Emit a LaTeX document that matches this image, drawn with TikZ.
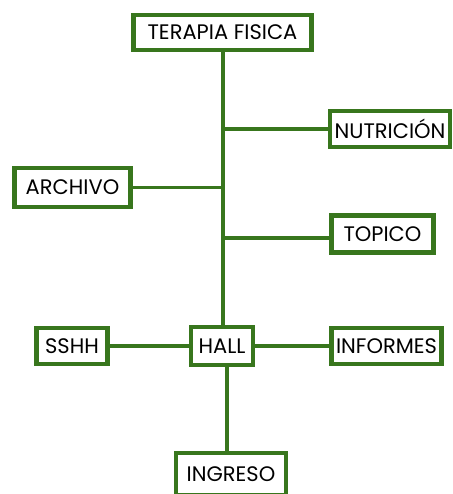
\documentclass[tikz,border=0pt]{standalone}
\usepackage{fontspec}
\setmainfont{Poppins}
\usepackage{xcolor}
\usetikzlibrary{calc}
\definecolor{verde}{RGB}{56,118,29}
\tikzset{
    %Define style for boxes
    area/.style={
        rectangle,
        draw=verde, line width=4.5pt,
        fill=white,
        align=center,
        inner sep=0pt,
        font=\fontsize{21}{24}\selectfont,
    },
    enlace/.style={
        draw=verde, line width=3.5pt,
    },
}
\begin{document}
\begin{tikzpicture}[x=1pt,y=-1pt]
		\useasboundingbox (0,0) rectangle (452,494);
		\fill[white] (0,0) rectangle (452,494);

		\draw[enlace] (223,33) -- (223,346);
		\draw[enlace] (223,346) -- (227,346) -- (227,475);

		\node[area,minimum width=178,minimum height=35] (T) at (222.5,32.5) {TERAPIA FISICA};
		\node[area,minimum width=120,minimum height=36] (N) at (390,129) {NUTRICIÓN};
		\node[area,minimum width=116,minimum height=39] (A) at (72.5,187.5) {ARCHIVO};
		\node[area,minimum width=102,minimum height=37] (P) at (382.5,234) {TOPICO};
		\node[area,minimum width=71,minimum height=36] (S) at (72,346) {SSHH};
		\node[area,minimum width=62,minimum height=38] (H) at (222,346) {HALL};
		\node[area,minimum width=110,minimum height=36] (I) at (386.5,346) {INFORMES};
		\node[area,minimum width=110,minimum height=42] (G) at (231,474) {INGRESO};

		\draw[enlace] (N.west) -- (N.west -| T.south);
		\draw[enlace] (A.east) -- (A.east -| T.south);
		\draw[enlace] ([yshift=-4pt]P.west) -- ([yshift=-4pt]P.west -| T.south);
		\draw[enlace] (S.east) -- (H.west);
		\draw[enlace] (H.east) -- (I.west);
	\end{tikzpicture}
\end{document}
